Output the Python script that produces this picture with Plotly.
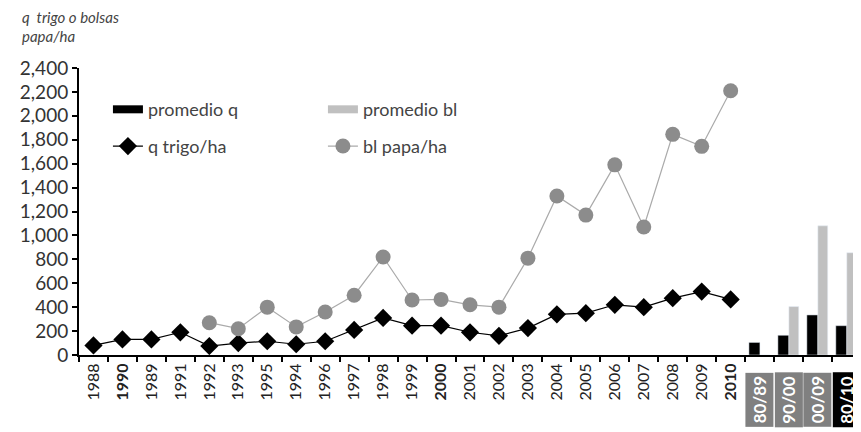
import plotly.graph_objects as go

years = ["1988", "1990", "1989", "1991", "1992", "1993", "1995", "1994", "1996", "1997",
         "1998", "1999", "2000", "2001", "2002", "2003", "2004", "2005", "2006", "2007",
         "2008", "2009", "2010"]
periods = ["80/89", "90/00", "00/09", "80/10"]
bold_years = ["1990", "2000", "2010"]

q_trigo = [80, 130, 130, 190, 75, 100, 115, 90, 115, 210,
           310, 245, 245, 190, 160, 225, 340, 350, 420, 400,
           475, 530, 465]
bl_years = ["1992", "1993", "1995", "1994", "1996", "1997", "1998", "1999", "2000", "2001",
            "2002", "2003", "2004", "2005", "2006", "2007", "2008", "2009", "2010"]
bl_papa = [270, 220, 400, 235, 360, 500, 820, 460, 465, 420,
           400, 810, 1330, 1170, 1590, 1070, 1845, 1745, 2210]
prom_q = [105, 165, 335, 245]
prom_bl = [0, 405, 1080, 855]

cats = years + periods
ticktext = [f"<b>{c}</b>" if c in bold_years else c for c in years] + ["" for _ in periods]

FONT = "Lato"
fig = go.Figure()
fig.add_trace(go.Bar(x=periods, y=prom_q, marker_color="#000000", showlegend=False,
                     offsetgroup="a", width=0.38))
fig.add_trace(go.Bar(x=periods, y=prom_bl, marker_color="#c0c0c0", showlegend=False,
                     offsetgroup="b", width=0.34))
fig.add_trace(go.Scatter(x=years, y=q_trigo, mode="lines+markers", name="q trigo/ha",
                         line=dict(color="#000000", width=1.2),
                         marker=dict(symbol="diamond", size=14, color="#000000"),
                         legend="legend2"))
fig.add_trace(go.Scatter(x=bl_years, y=bl_papa, mode="lines+markers", name="bl papa/ha",
                         line=dict(color="#aaaaaa", width=1.2),
                         marker=dict(symbol="circle", size=15, color="#8c8c8c"),
                         legend="legend2"))
# legend proxies for bars
fig.add_trace(go.Scatter(x=[None], y=[None], mode="lines", name="promedio q",
                         line=dict(color="#000000", width=8), legend="legend"))
fig.add_trace(go.Scatter(x=[None], y=[None], mode="lines", name="promedio bl",
                         line=dict(color="#c0c0c0", width=8), legend="legend"))

annotations = [
    dict(text="<i>q  trigo o bolsas</i>", xref="paper", yref="paper",
         x=-0.0754, y=1.178, xanchor="left", yanchor="middle", showarrow=False,
         font=dict(family=FONT, size=15, color="#444444")),
    dict(text="<i>papa/ha</i>", xref="paper", yref="paper",
         x=-0.0754, y=1.112, xanchor="left", yanchor="middle", showarrow=False,
         font=dict(family=FONT, size=15, color="#444444")),
]
for p in periods:
    annotations.append(dict(text=f"<b>{p}</b>", x=p, xref="x", yref="paper", y=-0.06,
                            xanchor="center", yanchor="top", textangle=-90, showarrow=False,
                            bgcolor="#000000" if p == "80/10" else "#808080",
                            font=dict(family=FONT, size=17, color="#ffffff"), borderpad=3))

# page body has an 8px default margin, so the figure is offset by 8px
fig.update_layout(
    width=853, height=424,
    margin=dict(l=71, r=0, t=60, b=77),
    paper_bgcolor="white", plot_bgcolor="white",
    barmode="group", bargap=0.28, bargroupgap=0,
    font=dict(family=FONT, color="#333333"),
    annotations=annotations,
    legend=dict(orientation="h", x=0.037, y=0.855, xanchor="left", yanchor="middle",
                entrywidth=170, font=dict(family=FONT, size=18, color="#444444"),
                bgcolor="rgba(0,0,0,0)", itemwidth=30),
    legend2=dict(orientation="h", x=0.037, y=0.727, xanchor="left", yanchor="middle",
                 entrywidth=170, font=dict(family=FONT, size=18, color="#444444"),
                 bgcolor="rgba(0,0,0,0)", itemwidth=30),
    xaxis=dict(type="category", categoryorder="array", categoryarray=cats,
               tickmode="array", tickvals=cats, ticktext=ticktext, tickangle=-90,
               tickson="boundaries", ticks="outside", ticklen=5, tickwidth=2,
               tickcolor="#000000", showline=True, linecolor="#000000", linewidth=2,
               showgrid=False, tickfont=dict(family=FONT, size=16, color="#222222"),
               range=[-0.5, len(cats) - 0.5], fixedrange=True, automargin=False),
    yaxis=dict(range=[0, 2400], tickvals=list(range(0, 2401, 200)), tickformat=",",
               ticks="outside", ticklen=5, tickwidth=2, tickcolor="#000000",
               showline=True, linecolor="#000000", linewidth=2, showgrid=False,
               zeroline=False, automargin=False,
               tickfont=dict(family=FONT, size=19, color="#333333")),
)

fig.write_html("out.html")
